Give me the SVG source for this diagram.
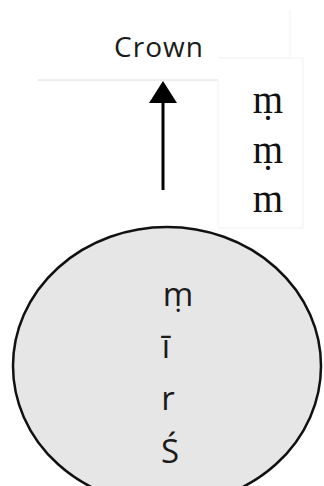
<svg xmlns="http://www.w3.org/2000/svg" width="324" height="486" viewBox="0 0 324 486">
<style>
.sans{font-family:"Open Sans","DejaVu Sans",sans-serif;fill:#1a1a1a;}
.serif{font-family:"Liberation Serif","Times New Roman",serif;fill:#111;}
.faint{stroke:#f1f1f1;stroke-width:1;fill:none;}
</style>
<rect width="324" height="486" fill="#fff"/>
<g id="crown">
<line x1="38" y1="80" x2="218" y2="80" stroke="#dcdcdc" stroke-width="1"/>
<path class="faint" d="M218,80 V226 M218,58 H303 V228 H218 M290,10 V58"/>
<text class="sans" x="159" y="57" font-size="28" text-anchor="middle" letter-spacing="1">Crown</text>
</g>
<g id="side-letters">
<text class="serif" x="268" y="113" font-size="39" text-anchor="middle">ṃ</text>
<text class="serif" x="268" y="163" font-size="39" text-anchor="middle">ṃ</text>
<text class="serif" x="268" y="212" font-size="39" text-anchor="middle">m</text>
</g>
<g id="connectors">
<line x1="163" y1="190" x2="163" y2="100" stroke="#000" stroke-width="3"/>
<path d="M163,81 L177,103 L149,103 Z" fill="#000"/>
</g>
<g id="base">
<ellipse cx="167" cy="366" rx="154" ry="139" fill="#e6e6e6" stroke="#111" stroke-width="2.5"/>
<text class="sans" x="178" y="306" font-size="33" text-anchor="middle">ṃ</text>
<text class="sans" x="166" y="358" font-size="33" text-anchor="middle">ī</text>
<text class="sans" x="168" y="410" font-size="33" text-anchor="middle">r</text>
<text class="sans" x="170" y="463" font-size="33" text-anchor="middle">Ś</text>
</g>
</svg>
